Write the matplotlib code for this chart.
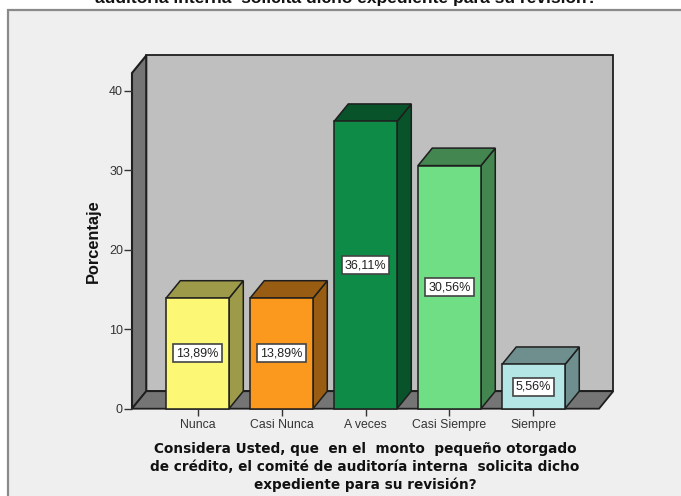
import matplotlib
matplotlib.use("Agg")
import matplotlib.pyplot as plt
from matplotlib.patches import Rectangle, Polygon

# values
categorias = ["Nunca", "Casi Nunca", "A veces", "Casi Siempre", "Siempre"]
porcentajes = [13.89, 13.89, 36.11, 30.56, 5.56]
etiquetas = ["13,89%", "13,89%", "36,11%", "30,56%", "5,56%"]
colores = ["#FCF876", "#FB991F", "#0F8B48", "#70DE85", "#B5E6E6"]
colores_osc = ["#9D9B4A", "#985D12", "#08532A", "#438650", "#6F8E8E"]
yticks = [0, 10, 20, 30, 40]

titulo = "auditoría interna  solicita dicho expediente para su revisión?"
xlabel = ("Considera Usted, que  en el  monto  pequeño otorgado\n"
          "de crédito, el comité de auditoría interna  solicita dicho\n"
          "expediente para su revisión?")

W, H = 681, 496
plt.rcParams['font.family'] = ['Liberation Sans', 'DejaVu Sans']
fig = plt.figure(figsize=(W / 100, H / 100), dpi=100, facecolor="white")

# gray chart frame, runs off the right and bottom of the image
fig.patches.append(Rectangle((8 / W, -0.01), 1.0, 1 - 10 / H + 0.01, transform=fig.transFigure,
                             facecolor="#EFEFEF", edgecolor="#8A8A8A", linewidth=1.6, zorder=-1))

# axes = front plane of the 3D box
ax = fig.add_axes([132 / W, 1 - 408.7 / H, (599 - 132) / W, (408.7 - 73) / H])
ax.set_xlim(-0.78, 4.78)
ax.set_ylim(0, 42.2)
ax.patch.set_visible(False)
for s in ax.spines.values():
    s.set_visible(False)

dx = 0.17   # depth in x units
dy = 2.2    # depth in y units
ancho = 0.75
borde = "#1E1E1E"
x0, x1 = ax.get_xlim()
y1 = ax.get_ylim()[1]

# walls
ax.add_patch(Polygon([(x0 + dx, dy), (x1 + dx, dy), (x1 + dx, y1 + dy), (x0 + dx, y1 + dy)],
                     facecolor="#BFBFBF", edgecolor=borde, lw=1.3, clip_on=False))
ax.add_patch(Polygon([(x0, 0), (x0 + dx, dy), (x0 + dx, y1 + dy), (x0, y1)],
                     facecolor="#757575", edgecolor=borde, lw=1.5, clip_on=False))
ax.add_patch(Polygon([(x0, 0), (x1, 0), (x1 + dx, dy), (x0 + dx, dy)],
                     facecolor="#757575", edgecolor=borde, lw=1.3, clip_on=False))

for i, v in enumerate(porcentajes):
    l = i - ancho / 2
    r = i + ancho / 2
    ax.add_patch(Polygon([(r, 0), (r + dx, dy), (r + dx, v + dy), (r, v)],
                         facecolor=colores_osc[i], edgecolor=borde, lw=1.1, clip_on=False))
    ax.add_patch(Polygon([(l, v), (r, v), (r + dx, v + dy), (l + dx, v + dy)],
                         facecolor=colores_osc[i], edgecolor=borde, lw=1.1, clip_on=False))
    ax.add_patch(Rectangle((l, 0), ancho, v, facecolor=colores[i], edgecolor=borde, lw=1.1, clip_on=False))
    ax.text(i, v / 2, etiquetas[i], ha="center", va="center", fontsize=9, color="#222222", zorder=5,
            bbox=dict(boxstyle="square,pad=0.24", facecolor="white", edgecolor="#444444", lw=1.2))

ax.set_xticks(range(len(categorias)))
ax.set_xticklabels(categorias, fontsize=8.8, color="#333333")
ax.set_yticks(yticks)
ax.tick_params(axis="y", labelsize=9, length=6, width=1, color="#333333", labelcolor="#333333", pad=0.5)
ax.tick_params(axis="x", length=5, width=1, color="#333333", pad=2.5)
ax.set_ylabel("Porcentaje", fontsize=11.8, fontweight="bold", color="#111111", labelpad=6)

fig.text(365 / W, 1 - 467 / H, xlabel, ha="center", va="center", fontsize=9.85, fontweight="bold",
         color="#111111", linespacing=1.33, family=["DejaVu Sans"])
# the title's upper lines fall outside the image, as in the original
fig.text(346 / W, 1 - 3 / H, titulo, ha="center", va="baseline", fontsize=12.5, fontweight="bold", color="#111111")

fig.savefig("out.png", dpi=100)
